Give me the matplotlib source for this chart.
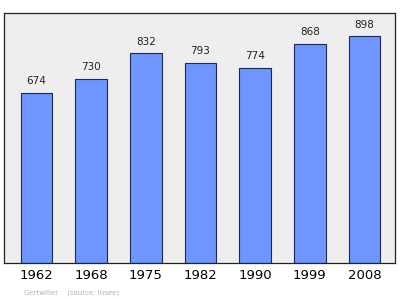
import matplotlib
matplotlib.use("Agg")
import matplotlib.pyplot as plt

years = ["1962", "1968", "1975", "1982", "1990", "1999", "2008"]
population = [674, 730, 832, 793, 774, 868, 898]

fig = plt.figure(figsize=(4.0, 2.99), dpi=100)
ax = fig.add_axes([4 / 400, 1 - 263 / 299, 391 / 400, 250 / 299])
ax.set_facecolor("#eeeeee")

x = range(len(years))
ax.bar(x, population, width=0.576, color="#6f96ff", edgecolor="#1a2a55", linewidth=0.8)
for i, v in zip(x, population):
    ax.text(i, v + 25, str(v), ha="center", va="bottom", fontsize=7.5, color="#222222")

ax.set_xlim(-0.594, 6.558)
ax.set_ylim(0, 990)
ax.set_yticks([])
ax.set_xticks(list(x))
ax.set_xticklabels(years, fontsize=9.5)
ax.tick_params(axis="x", length=0, pad=4)
for s in ax.spines.values():
    s.set_color("#222222")
    s.set_linewidth(0.9)

fig.text(24 / 400, 1 - 293 / 299, "Gertwiller    (source: Insee)", fontsize=5,
         color="#b0b0b0", va="center")

fig.savefig("out.png", dpi=100)
